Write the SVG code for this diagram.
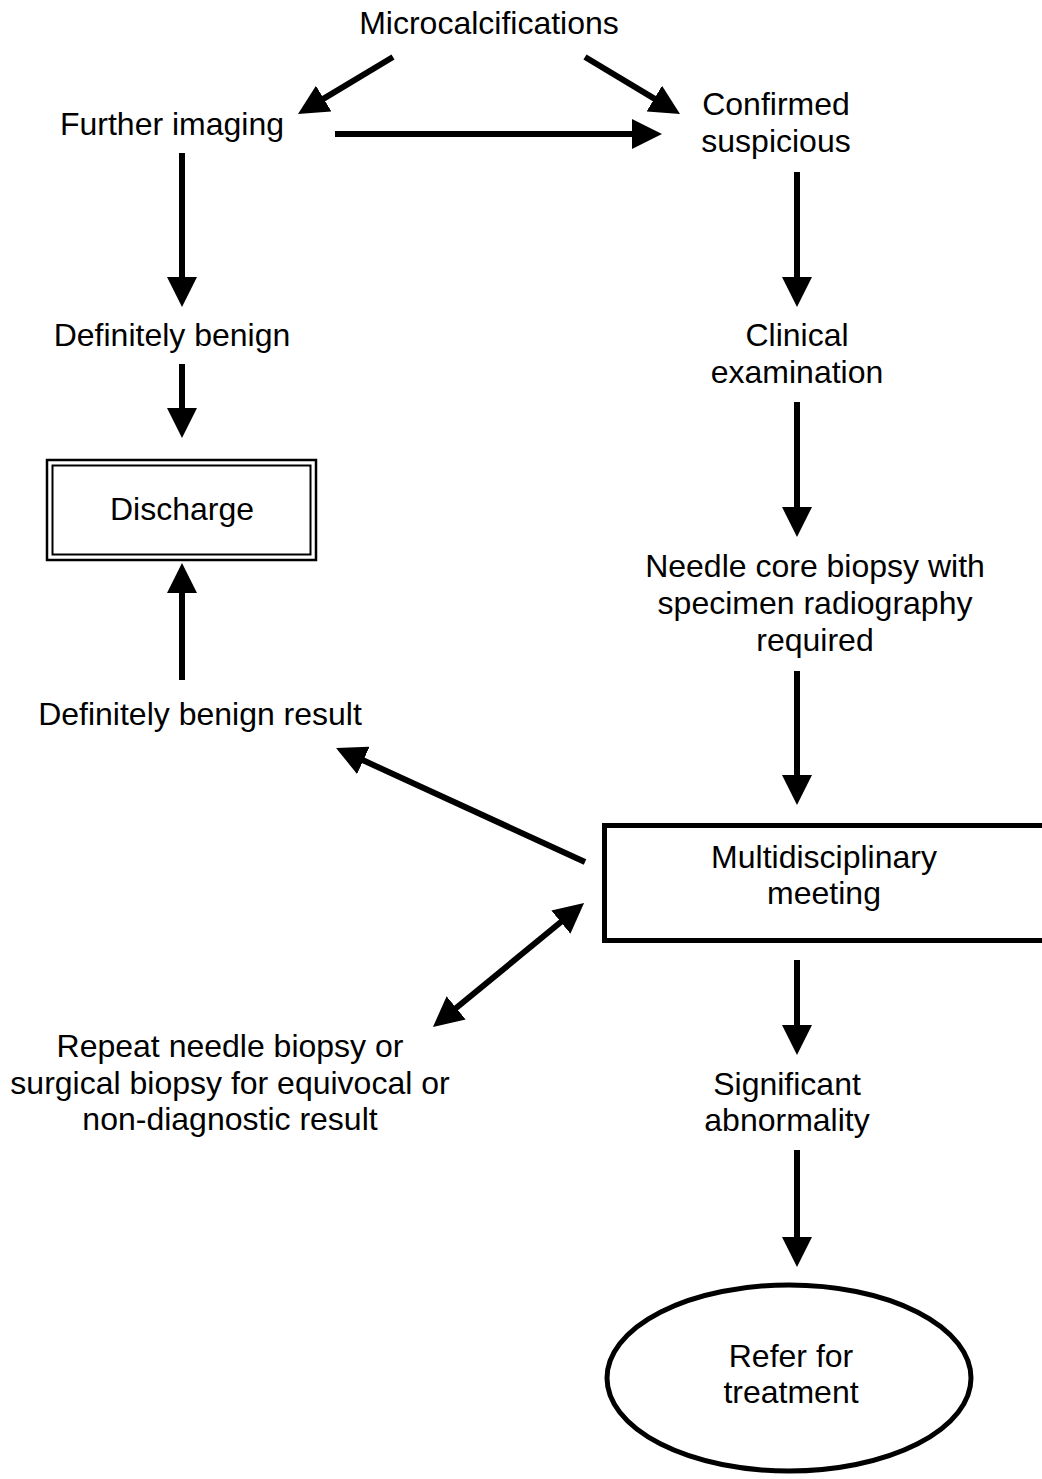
<svg xmlns="http://www.w3.org/2000/svg" width="1042" height="1479" viewBox="0 0 1042 1479">
  <defs>
    <marker id="head" viewBox="0 0 30 30" markerWidth="30" markerHeight="30" markerUnits="userSpaceOnUse" refX="2" refY="15" orient="auto-start-reverse">
      <path d="M0,0 L30,15 L0,30 z" fill="#000"/>
    </marker>
    <style>
      text { font-family: "Liberation Sans", Arial, sans-serif; font-size: 32px; fill: #000; text-anchor: middle; }
      .edge { stroke: #000; stroke-width: 6; fill: none; marker-end: url(#head); }
      .both { marker-start: url(#head); }
      .shape { fill: #fff; stroke: #000; }
    </style>
  </defs>
  <rect width="1042" height="1479" fill="#fff"/>

  <g id="connectors">
    <line class="edge" x1="393" y1="57" x2="322" y2="99.6"/>
    <line class="edge" x1="585" y1="57" x2="656" y2="99.6"/>
    <line class="edge" x1="335" y1="134" x2="634" y2="134"/>
    <line class="edge" x1="182" y1="153" x2="182" y2="279"/>
    <line class="edge" x1="182" y1="364" x2="182" y2="410"/>
    <line class="edge" x1="182" y1="680" x2="182" y2="591"/>
    <line class="edge" x1="797" y1="172" x2="797" y2="279"/>
    <line class="edge" x1="797" y1="402" x2="797" y2="509"/>
    <line class="edge" x1="797" y1="671" x2="797" y2="777"/>
    <line class="edge" x1="585" y1="862" x2="361.5" y2="759.6"/>
    <line class="edge both" x1="454.6" y1="1009.2" x2="562.4" y2="920.8"/>
    <line class="edge" x1="797" y1="960" x2="797" y2="1027"/>
    <line class="edge" x1="797" y1="1150" x2="797" y2="1239"/>
  </g>

  <g id="microcalcifications"><text x="489" y="34">Microcalcifications</text></g>
  <g id="further-imaging"><text x="172" y="135">Further imaging</text></g>
  <g id="confirmed-suspicious"><text x="776" y="115">Confirmed</text><text x="776" y="152">suspicious</text></g>
  <g id="definitely-benign"><text x="172" y="346">Definitely benign</text></g>
  <g id="clinical-examination"><text x="797" y="346">Clinical</text><text x="797" y="383">examination</text></g>

  <g id="discharge">
    <rect class="shape" x="47" y="460" width="269" height="100" stroke-width="2.5"/>
    <rect x="52.5" y="465.5" width="258" height="89" fill="none" stroke="#000" stroke-width="2"/>
    <text x="182" y="520">Discharge</text>
  </g>

  <g id="needle-core-biopsy">
    <text x="815" y="577">Needle core biopsy with</text>
    <text x="815" y="614">specimen radiography</text>
    <text x="815" y="651">required</text>
  </g>

  <g id="definitely-benign-result"><text x="200" y="725">Definitely benign result</text></g>

  <g id="multidisciplinary-meeting">
    <rect class="shape" x="604.5" y="825.5" width="440" height="115" stroke-width="5"/>
    <text x="824" y="868">Multidisciplinary</text>
    <text x="824" y="904">meeting</text>
  </g>

  <g id="repeat-biopsy">
    <text x="230" y="1057">Repeat needle biopsy or</text>
    <text x="230" y="1094">surgical biopsy for equivocal or</text>
    <text x="230" y="1130">non-diagnostic result</text>
  </g>

  <g id="significant-abnormality"><text x="787" y="1095">Significant</text><text x="787" y="1131">abnormality</text></g>

  <g id="refer-for-treatment">
    <ellipse class="shape" cx="789" cy="1378" rx="182" ry="93" stroke-width="5"/>
    <text x="791" y="1367">Refer for</text>
    <text x="791" y="1403">treatment</text>
  </g>
</svg>
